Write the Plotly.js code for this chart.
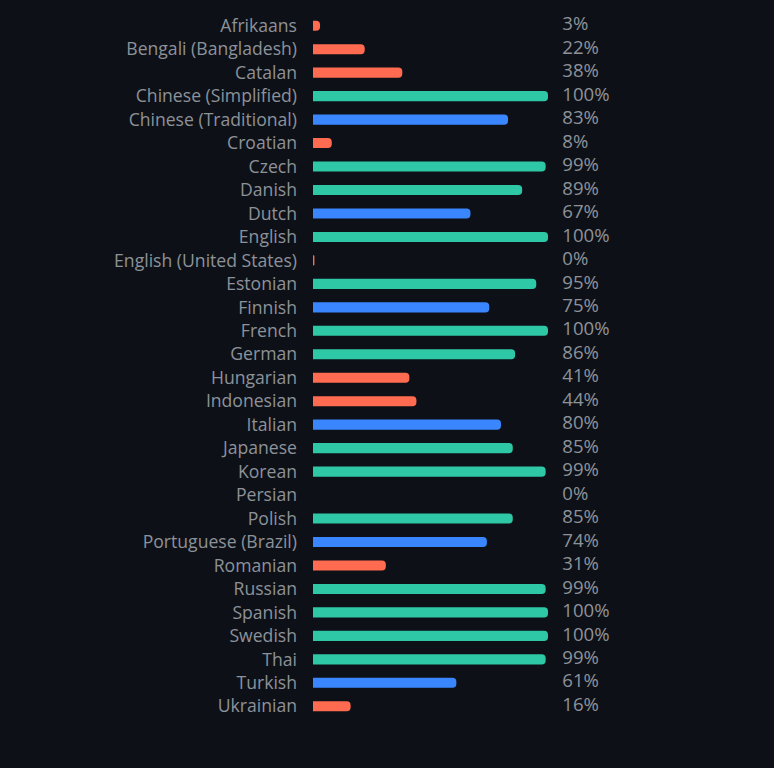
<!DOCTYPE html>
<html>
<head>
<meta charset="utf-8">
<script src="https://cdn.plot.ly/plotly-3.0.1.min.js"></script>
<style>
html,body{margin:0;padding:0;background:#0d1117;}
#chart{width:774px;height:768px;}
</style>
</head>
<body>
<div id="chart"></div>
<script>
const languages = ["Afrikaans","Bengali (Bangladesh)","Catalan","Chinese (Simplified)","Chinese (Traditional)","Croatian","Czech","Danish","Dutch","English","English (United States)","Estonian","Finnish","French","German","Hungarian","Indonesian","Italian","Japanese","Korean","Persian","Polish","Portuguese (Brazil)","Romanian","Russian","Spanish","Swedish","Thai","Turkish","Ukrainian"];
const progress = [3,22,38,100,83,8,99,89,67,100,0.6,95,75,100,86,41,44,80,85,99,0,85,74,31,99,100,100,99,61,16];
const labels = ["3%","22%","38%","100%","83%","8%","99%","89%","67%","100%","0%","95%","75%","100%","86%","41%","44%","80%","85%","99%","0%","85%","74%","31%","99%","100%","100%","99%","61%","16%"];

const RED = "#ff6b50", BLUE = "#3a86ff", GREEN = "#2ec8a6";
const colors = progress.map(v => v >= 85 ? GREEN : (v >= 50 ? BLUE : RED));

const bars = {
  type: "bar",
  orientation: "h",
  x: progress,
  y: languages,
  width: 0.43,
  marker: {color: colors, cornerradius: 4},
  hoverinfo: "skip"
};
const texts = {
  type: "scatter",
  mode: "text",
  x: languages.map(() => 106.1),
  y: languages,
  text: labels,
  textposition: "middle right",
  textfont: {family: "Open Sans, Noto Sans, sans-serif", size: 18.6, color: "#8d929a"},
  hoverinfo: "skip",
  cliponaxis: false
};

Plotly.newPlot("chart", [bars, texts], {
  width: 774, height: 768,
  paper_bgcolor: "#0d1117",
  plot_bgcolor: "#0d1117",
  showlegend: false,
  margin: {l: 313, r: 132, t: 14, b: 50},
  font: {family: "Open Sans, Noto Sans, sans-serif", size: 17.6, color: "#8d929a"},
  xaxis: {range: [0, 140], showgrid: false, zeroline: false, showticklabels: false, fixedrange: true},
  yaxis: {range: [languages.length - 0.5, -0.5], showgrid: false, zeroline: false, ticks: "", ticklabelstandoff: 15, tickfont: {size: 17.6, color: "#8d929a"}, fixedrange: true}
}, {displayModeBar: false, staticPlot: true});
</script>
</body>
</html>
